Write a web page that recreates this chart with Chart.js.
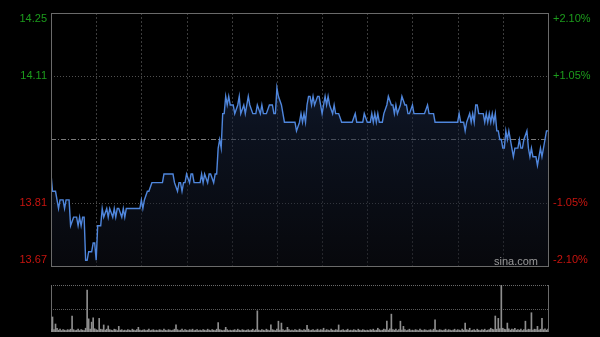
<!DOCTYPE html>
<html>
<head>
<meta charset="utf-8">
<script src="https://cdn.jsdelivr.net/npm/chart.js@4.4.0/dist/chart.umd.min.js"></script>
<style>
body{margin:0;background:#000;}
#wrap{position:relative;width:600px;height:337px;background:#000;overflow:hidden;}
#wrap canvas{position:absolute;left:0;}
</style>
</head>
<body>
<div id="wrap">
	<canvas id="price" width="600" height="275" style="top:0"></canvas>
	<canvas id="vol" width="600" height="62" style="top:275px"></canvas>
</div>
<script>
// intraday minutes (0 = 09:30, 330 = 16:00) and the price at each turning point
var minutes = [0,1,3,5,6,8,9,10,12,13,15,17,18,19,20,21,22,23,24,25,27,28,29,30,31,33,34,35,37,38,39,41,42,43,44,45,47,48,49,50,59,60,61,62,64,65,67,74,75,81,82,84,85,86,87,88,89,90,92,93,94,95,99,100,101,102,104,105,106,108,109,110,111,112,113,114,115,116,117,118,119,121,122,124,125,126,128,129,131,132,134,136,137,139,140,141,143,145,147,148,149,150,151,153,154,155,162,163,165,166,167,168,169,170,171,172,173,174,175,177,178,179,180,181,182,183,184,185,187,188,189,191,193,200,202,203,207,208,210,212,213,214,215,216,217,218,220,221,223,224,226,227,228,229,230,232,233,235,236,237,238,240,241,248,250,251,254,255,270,271,272,274,275,276,278,279,280,281,282,283,284,287,288,289,290,291,292,293,294,295,296,297,298,299,300,301,302,303,304,305,306,307,308,310,311,312,313,314,316,317,318,319,320,322,323,324,325,326,328,329,330];
var prices = [13.88,13.84,13.84,13.80,13.82,13.82,13.80,13.82,13.82,13.76,13.78,13.78,13.76,13.78,13.76,13.78,13.78,13.68,13.68,13.70,13.70,13.72,13.72,13.68,13.76,13.76,13.80,13.78,13.80,13.78,13.80,13.78,13.80,13.78,13.80,13.80,13.78,13.80,13.78,13.80,13.80,13.82,13.80,13.82,13.84,13.84,13.86,13.86,13.88,13.88,13.86,13.84,13.86,13.86,13.84,13.86,13.86,13.88,13.86,13.88,13.88,13.86,13.86,13.88,13.86,13.88,13.86,13.88,13.88,13.86,13.88,13.88,13.94,13.96,13.94,14.02,14.02,14.06,14.04,14.06,14.04,14.04,14.02,14.04,14.06,14.02,14.04,14.02,14.06,14.04,14.02,14.02,14.04,14.02,14.04,14.02,14.02,14.04,14.04,14.02,14.02,14.08,14.06,14.04,14.02,14.00,14.00,13.98,14.00,14.02,14.00,14.02,14.00,14.04,14.06,14.06,14.04,14.06,14.04,14.06,14.06,14.04,14.02,14.04,14.06,14.04,14.06,14.04,14.02,14.04,14.02,14.02,14.00,14.00,14.02,14.00,14.00,14.02,14.00,14.00,14.02,14.00,14.02,14.00,14.02,14.00,14.00,14.02,14.04,14.06,14.04,14.04,14.02,14.04,14.02,14.04,14.06,14.04,14.04,14.02,14.02,14.04,14.02,14.02,14.04,14.02,14.02,14.00,14.00,14.02,14.00,14.00,13.98,14.00,14.02,14.00,14.02,14.00,14.04,14.04,14.02,14.02,14.00,14.02,14.00,14.02,14.00,14.02,14.00,14.02,13.98,13.98,13.96,13.96,13.94,13.94,13.98,13.96,13.98,13.96,13.94,13.92,13.94,13.94,13.96,13.94,13.94,13.96,13.98,13.94,13.92,13.94,13.92,13.92,13.90,13.92,13.94,13.92,13.96,13.98,13.98];

// volume per minute, relative units (100 = top of the volume panel)
var volumes = [
	6,32,5,17,8,4,6,3,5,4,
	3,5,4,6,34,5,3,4,6,3,
	5,4,3,8,89,28,6,21,30,7,
	5,4,29,6,5,15,4,6,13,5,
	4,3,6,5,3,12,4,5,3,4,
	3,5,4,3,6,4,3,5,10,4,
	3,4,5,3,4,6,3,4,5,3,
	4,3,5,4,3,6,4,3,5,4,
	3,4,6,15,5,3,4,6,3,5,
	4,3,5,4,6,3,4,5,3,4,
	3,5,4,3,6,4,3,5,4,3,
	6,20,5,4,3,4,10,5,3,4,
	3,4,5,3,6,4,3,5,4,3,
	4,5,3,4,6,3,5,45,4,3,
	5,4,3,6,4,3,15,5,4,3,
	6,23,4,19,5,3,4,10,5,3,
	4,3,5,4,3,6,4,3,5,4,
	14,6,3,4,5,3,4,6,3,5,
	4,8,3,5,4,3,6,4,3,5,
	4,15,3,4,5,3,4,6,3,4,
	3,5,4,3,6,4,3,5,4,3,
	4,3,5,4,6,3,4,8,5,3,
	4,6,5,23,4,7,38,5,4,6,
	3,5,23,4,12,5,3,4,6,3,
	4,3,5,4,3,6,4,3,5,4,
	3,4,5,3,6,26,4,3,5,4,
	3,4,6,3,5,4,3,4,6,3,
	5,4,3,6,4,19,5,4,8,3,
	4,5,3,6,4,3,5,4,6,3,
	4,5,8,6,5,34,6,29,7,100,
	8,6,5,19,7,4,6,5,8,4,
	5,4,6,3,5,23,4,6,5,41,
	4,6,5,12,4,6,29,5,7,4,
	6
];

var preClose = 13.96;
// price axis: preClose +-2.1%, lines at every quarter
var priceTicks = [14.2532, 14.1066, 13.96, 13.8134, 13.6668];
var pctTicks = ["+2.10%", "+1.05%", "", "-1.05%", "-2.10%"];
var timeTicks = [30, 60, 90, 120, 150, 180, 210, 240, 270, 300];

var upColor = "#1c9c1c", downColor = "#c8140f";

function dashLine(ctx, x1, y1, x2, y2, color, dash){
	ctx.save();
	ctx.strokeStyle = color;
	ctx.lineWidth = 1;
	ctx.setLineDash(dash);
	ctx.beginPath();
	ctx.moveTo(x1, y1);
	ctx.lineTo(x2, y2);
	ctx.stroke();
	ctx.restore();
}

var priceDeco = {
	id: "priceDeco",
	beforeDatasetsDraw: function(chart){
		var ctx = chart.ctx, a = chart.chartArea;
		var xs = chart.scales.x, ys = chart.scales.y;
		for(var i = 0; i < timeTicks.length; i++){
			var px = Math.round(xs.getPixelForValue(timeTicks[i])) + 0.5;
			dashLine(ctx, px, a.top, px, a.bottom, "#3c3c3c", [2, 2]);
		}
		for(var j = 1; j < priceTicks.length - 1; j++){
			var py = Math.round(ys.getPixelForValue(priceTicks[j])) + 0.5;
			if(priceTicks[j] == preClose){
				dashLine(ctx, a.left, py, a.right, py, "#7a7a7a", [5, 2, 1, 2]);
			} else {
				dashLine(ctx, a.left, py, a.right, py, "#505050", [1, 2]);
			}
		}
	},
	afterDatasetsDraw: function(chart){
		var ctx = chart.ctx, a = chart.chartArea, ys = chart.scales.y;
		ctx.save();
		ctx.strokeStyle = "#6a6a6a";
		ctx.lineWidth = 1;
		ctx.strokeRect(Math.round(a.left) + 0.5, Math.round(a.top) + 0.5, Math.round(a.right - a.left), Math.round(a.bottom - a.top));
		ctx.font = "11px Arial";
		ctx.textBaseline = "middle";
		for(var i = 0; i < priceTicks.length; i++){
			if(priceTicks[i] == preClose) continue;
			var py = ys.getPixelForValue(priceTicks[i]);
			if(i == 0) py += 6;
			if(i == priceTicks.length - 1) py -= 6;
			ctx.fillStyle = priceTicks[i] > preClose ? upColor : downColor;
			ctx.textAlign = "right";
			ctx.fillText(priceTicks[i].toFixed(2), a.left - 4, py);
			ctx.textAlign = "left";
			ctx.fillText(pctTicks[i], a.right + 5, py);
		}
		ctx.fillStyle = "#9a9a9a";
		ctx.textAlign = "right";
		ctx.textBaseline = "alphabetic";
		ctx.fillText("sina.com", a.right - 10, a.bottom - 1);
		ctx.restore();
	}
};

var volDeco = {
	id: "volDeco",
	beforeDatasetsDraw: function(chart){
		var ctx = chart.ctx, a = chart.chartArea, ys = chart.scales.y;
		var top = Math.round(a.top) + 0.5;
		var mid = Math.round(ys.getPixelForValue(50)) + 0.5;
		dashLine(ctx, a.left, top, a.right, top, "#6a6a6a", [1, 1]);
		dashLine(ctx, a.left, mid, a.right, mid, "#5a5a5a", [1, 1]);
		dashLine(ctx, Math.round(a.left) + 0.5, a.top, Math.round(a.left) + 0.5, a.bottom, "#6a6a6a", []);
		dashLine(ctx, Math.round(a.right) + 0.5, a.top, Math.round(a.right) + 0.5, a.bottom, "#6a6a6a", []);
	}
};

var pricePoints = [];
for(var i = 0; i < minutes.length; i++){
	pricePoints.push({x: minutes[i], y: prices[i]});
}

var priceChart = new Chart(document.getElementById("price"), {
	type: "line",
	data: {
		datasets: [{
			data: pricePoints,
			borderColor: "#4f86dc",
			borderWidth: 1.4,
			pointRadius: 0,
			tension: 0,
			fill: "start",
			backgroundColor: function(c){
				var a = c.chart.chartArea;
				if(!a) return "rgba(0,0,0,0)";
				var g = c.chart.ctx.createLinearGradient(0, a.top, 0, a.bottom);
				g.addColorStop(0, "rgba(34,56,100,0.62)");
				g.addColorStop(0.45, "rgba(24,36,62,0.5)");
				g.addColorStop(1, "rgba(14,16,24,0.5)");
				return g;
			}
		}]
	},
	options: {
		responsive: false,
		animation: false,
		events: [],
		layout: {padding: {left: 51, right: 52, top: 13, bottom: 9}},
		plugins: {legend: {display: false}, tooltip: {enabled: false}},
		scales: {
			x: {type: "linear", display: false, min: 0, max: 330},
			y: {display: false, min: priceTicks[4], max: priceTicks[0]}
		}
	},
	plugins: [priceDeco]
});

var volLabels = [];
for(var k = 0; k < volumes.length; k++){
	volLabels.push(k);
}

var volChart = new Chart(document.getElementById("vol"), {
	type: "bar",
	data: {
		labels: volLabels,
		datasets: [{
			data: volumes,
			backgroundColor: "#8e8e8e",
			barThickness: 1,
			borderWidth: 0
		}]
	},
	options: {
		responsive: false,
		animation: false,
		events: [],
		layout: {padding: {left: 51, right: 52, top: 10, bottom: 5}},
		plugins: {legend: {display: false}, tooltip: {enabled: false}},
		scales: {
			x: {display: false, offset: false},
			y: {display: false, min: 0, max: 100}
		}
	},
	plugins: [volDeco]
});
</script>
</body>
</html>
